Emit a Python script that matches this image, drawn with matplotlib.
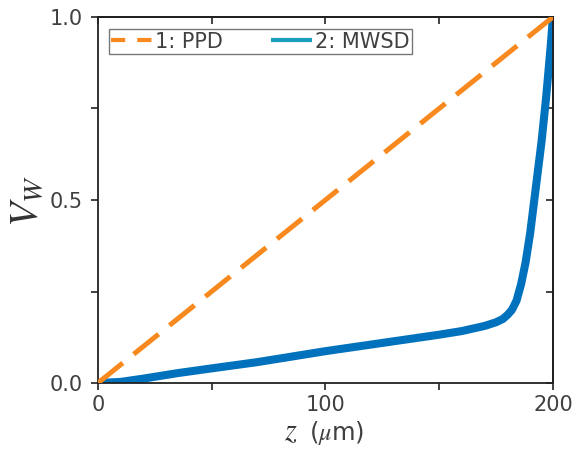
import matplotlib
matplotlib.use("Agg")
import matplotlib.pyplot as plt
from matplotlib.lines import Line2D

plt.rcParams["mathtext.fontset"] = "stix"

# Data
ppd_z = [0, 200]
ppd_v = [0.0, 1.0]

mwsd_z = [0, 10, 20, 35, 50, 70, 84, 100, 120, 140, 150, 160, 170, 175, 178, 180, 182, 184, 186, 188, 190, 191, 192, 193, 194, 195, 196, 197, 198, 199, 200]
mwsd_v = [0.0, 0.003, 0.012, 0.027, 0.04, 0.057, 0.071, 0.087, 0.105, 0.123, 0.132, 0.142, 0.156, 0.166, 0.175, 0.186, 0.2, 0.225, 0.27, 0.33, 0.41, 0.46, 0.51, 0.56, 0.61, 0.66, 0.72, 0.78, 0.85, 0.92, 1.0]

xticks = [0, 100, 200]
yticks = [0.0, 0.5, 1.0]

orange = "#F7891E"
blue = "#0071BC"
legend_blue = "#1A9EC0"
textc = "#404040"

W, H = 579, 453
fig = plt.figure(figsize=(W / 100, H / 100), dpi=100)
ax = fig.add_axes([0.169, 0.1545, 0.786, 0.808])

ax.plot(mwsd_z, mwsd_v, color=blue, lw=5.8, solid_capstyle="butt", zorder=2)
ax.plot(ppd_z, ppd_v, color=orange, lw=3.6, dashes=(6.4, 2.8), dash_capstyle="butt", zorder=3)

ax.set_xlim(0, 200)
ax.set_ylim(0, 1)
ax.set_xticks(xticks)
ax.set_xticklabels([str(t) for t in xticks])
ax.set_yticks(yticks)
ax.set_yticklabels([f"{t:.1f}" for t in yticks])
ax.set_xticks([50, 150], minor=True)
ax.set_yticks([0.25, 0.75], minor=True)

ax.tick_params(which="both", direction="out", labelsize=15, labelcolor=textc, width=1.2, color="#222222", length=5)
ax.tick_params(axis="y", pad=6)
for s in ax.spines.values():
    s.set_linewidth(1.3)
    s.set_color("#222222")

# mirrored inward ticks on top/right
axt = ax.secondary_xaxis("top")
axt.set_xticks(xticks)
axt.set_xticks([50, 150], minor=True)
axt.tick_params(which="both", direction="in", length=5, width=1.2, labeltop=False, color="#222222")
axr = ax.secondary_yaxis("right")
axr.set_yticks(yticks)
axr.set_yticks([0.25, 0.75], minor=True)
axr.tick_params(which="both", direction="in", length=5, width=1.2, labelright=False, color="#222222")
for a in (axt, axr):
    for s in a.spines.values():
        s.set_linewidth(1.3)

# axis labels
fig.text(291 / W, 1 - 440 / H, r"$z$", fontsize=22, color="#333333", ha="center", va="baseline")
fig.text(309 / W, 1 - 440 / H, r"($\mu$m)", fontsize=17.5, color=textc, ha="left", va="baseline")
fig.text(27 / W, 1 - 201 / H, r"$V_W$", fontsize=29, color="#333333", rotation=90,
         ha="center", va="center")

handles = [Line2D([0], [0], color=orange, lw=3, dashes=(3.4, 2.9), dash_capstyle="butt"),
           Line2D([0], [0], color=legend_blue, lw=3, solid_capstyle="butt")]
leg = ax.legend(handles, ["1: PPD", "2: MWSD"], loc="upper left", ncol=2,
                fontsize=15, frameon=True, fancybox=False, edgecolor="#555555",
                bbox_to_anchor=(0.015, 0.978), borderaxespad=0.2, handlelength=1.95,
                handletextpad=0.15, columnspacing=2.3, borderpad=0.12, labelcolor=textc)
leg.get_frame().set_linewidth(1.0)

fig.savefig("out.png", dpi=100)
